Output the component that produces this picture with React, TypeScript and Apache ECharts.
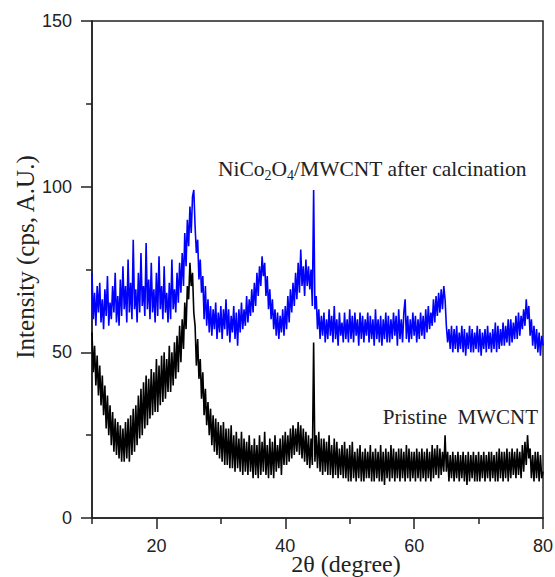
import React, { useEffect, useRef } from "react";
import * as echarts from "echarts";

// 2θ sampling grid of the scan: 10° to 80°, 0.2° step
const startAngle = 10;
const stepAngle = 0.2;

// NiCo2O4/MWCNT after calcination (blue), 5 readings per degree
const calcined: number[] = [
  74,60,68,58,70, 62,71,59,66,57, 69,61,73,58,65, 60,70,62,74,59,
  67,58,72,61,76, 63,70,59,78,62, 71,60,84,63,69, 59,74,62,80,64,
  70,61,83,63,72, 60,77,62,69,59, 74,61,79,63,70, 60,76,62,68,59,
  71,60,78,63,69, 62,74,65,77,68, 80,70,86,76,90, 82,94,86,97,99,
  88,80,84,72,78, 68,73,60,70,58, 66,56,64,55,63, 57,65,54,62,56,
  64,54,63,57,66, 55,63,53,61,56, 64,54,62,52,63, 56,65,57,63,58,
  67,59,66,61,69, 62,71,64,74,67, 76,70,79,73,77, 67,73,63,69,60,
  66,57,63,55,62, 54,61,56,63,55, 64,57,67,59,69, 62,71,64,74,66,
  77,68,81,70,76, 67,78,70,76,69, 75,64,99,63,67, 57,63,54,61,55,
  62,53,60,54,63, 55,61,53,64,54, 60,52,62,55,59, 53,62,54,60,53,
  63,54,61,53,62, 55,60,52,62,54, 61,53,60,55,62, 53,61,54,60,52,
  63,54,60,53,61, 52,60,54,62,53, 61,53,60,54,62, 55,61,52,63,54,
  60,53,62,66,54, 61,53,60,54,62, 55,61,53,60,54, 62,55,61,54,63,
  56,64,57,62,58, 66,59,67,61,68, 62,69,63,70,66, 58,53,57,51,58,
  50,57,51,58,50, 56,51,58,50,57, 49,56,51,58,50, 57,50,56,51,58,
  50,57,49,56,51, 57,50,58,51,56, 50,57,51,59,50, 58,51,57,52,59,
  52,58,53,60,52, 60,53,59,54,61, 54,62,55,61,57, 63,58,66,60,64,
  55,60,52,58,51, 57,50,56,49,55,
  52,
];

// Pristine MWCNT (black), 5 readings per degree
const pristine: number[] = [
  56,44,52,40,49, 37,46,34,43,31, 40,27,37,25,34, 22,32,20,30,19,
  29,18,28,17,27, 17,29,18,30,17, 31,19,33,20,34, 22,37,24,39,25,
  41,27,43,28,42, 30,45,31,44,32, 48,32,46,34,49, 35,50,36,48,38,
  52,38,50,40,53, 42,55,44,58,47, 60,51,65,57,70, 66,77,70,74,62,
  58,46,54,42,48, 36,44,31,39,28, 35,25,33,22,31, 20,30,19,29,18,
  28,17,29,16,27, 16,27,15,28,15, 25,14,26,15,24, 14,26,13,24,14,
  23,13,25,14,22, 12,24,13,22,12, 25,13,23,14,26, 13,22,12,24,13,
  23,12,25,14,22, 15,24,13,25,16, 26,16,25,17,27, 18,28,19,27,20,
  29,19,28,18,27, 17,26,16,25,15, 24,16,53,17,25, 15,26,14,24,13,
  24,14,23,13,25, 13,22,12,24,13, 23,12,21,13,22, 12,23,12,21,11,
  22,11,23,12,20, 11,21,12,22,11, 20,11,21,12,20, 12,22,11,20,11,
  21,12,20,11,22, 11,20,10,21,12, 20,11,22,12,21, 11,20,12,21,11,
  21,12,20,11,22, 12,21,11,20,12, 20,11,21,12,20, 11,21,12,20,11,
  21,12,20,11,22, 12,21,13,22,12, 21,13,20,14,25, 14,20,11,19,12,
  20,11,19,12,20, 11,19,12,20,11, 19,10,20,11,19, 12,20,11,19,11,
  20,11,19,12,20, 11,19,12,20,11, 20,12,19,11,20, 11,21,12,20,11,
  20,12,21,11,20, 12,21,13,20,12, 21,13,20,12,22, 14,23,16,25,18,
  21,12,19,11,20, 12,20,11,19,12,
  14,
];

const xMajorTicks = [20, 40, 60, 80];
const xMinorTicks = [10, 30, 50, 70];
const yMajorTicks = [0, 50, 100, 150];
const yMinorTicks = [25, 75, 125];

const labelCalcined = "NiCo{s|2}O{s|4}/MWCNT after calcination";
const labelPristine = "Pristine  MWCNT";
const xName = "2θ (degree)";
const yName = "Intensity (cps, A.U.)";

const SERIF = "Liberation Serif";
const SANS = "Liberation Sans";

export default function App() {
  const ref = useRef<HTMLDivElement>(null);
  useEffect(() => {
    if (!ref.current) return;
    const chart = echarts.init(ref.current, undefined, { renderer: "svg" });
    const toPairs = (arr: number[]) =>
      arr.map((v, i) => [Math.round((startAngle + i * stepAngle) * 100) / 100, v]);
    const axisLine = { show: true, lineStyle: { color: "#222", width: 1.5 } };
    chart.setOption({
      animation: false,
      backgroundColor: "#fff",
      grid: {
        left: 92,
        right: 12,
        top: 21,
        bottom: 59,
        show: true,
        borderColor: "#222",
        borderWidth: 1.5,
        outerBoundsMode: "none",
        containLabel: false,
      },
      xAxis: [
        {
          type: "value",
          min: 10,
          max: 80,
          interval: 10,
          axisLine,
          splitLine: { show: false },
          axisTick: {
            show: true,
            length: 11,
            customValues: xMajorTicks,
            lineStyle: { color: "#222", width: 1.5 },
          },
          axisLabel: {
            customValues: xMajorTicks,
            margin: 19,
            color: "#222",
            fontSize: 18,
            fontFamily: SANS,
          },
        },
        {
          type: "value",
          min: 10,
          max: 80,
          interval: 10,
          position: "bottom",
          axisLine: { show: false },
          splitLine: { show: false },
          axisTick: {
            show: true,
            length: 6,
            customValues: xMinorTicks,
            lineStyle: { color: "#222", width: 1.5 },
          },
          axisLabel: { show: false },
        },
      ],
      yAxis: [
        {
          type: "value",
          min: 0,
          max: 150,
          interval: 25,
          position: "left",
          axisLine,
          splitLine: { show: false },
          axisTick: {
            show: true,
            length: 11,
            customValues: yMajorTicks,
            lineStyle: { color: "#222", width: 1.5 },
          },
          axisLabel: {
            customValues: yMajorTicks,
            margin: 20,
            color: "#222",
            fontSize: 18,
            fontFamily: SANS,
          },
        },
        {
          type: "value",
          min: 0,
          max: 150,
          interval: 25,
          position: "left",
          offset: 0,
          axisLine: { show: false },
          splitLine: { show: false },
          axisTick: {
            show: true,
            length: 6,
            customValues: yMinorTicks,
            lineStyle: { color: "#222", width: 1.5 },
          },
          axisLabel: { show: false },
        },
      ],
      series: [
        {
          name: "NiCo2O4/MWCNT after calcination",
          type: "line",
          xAxisIndex: 0,
          yAxisIndex: 0,
          data: toPairs(calcined),
          showSymbol: false,
          symbol: "none",
          lineStyle: { color: "#0000ff", width: 1.6 },
          z: 2,
        },
        {
          name: "Pristine MWCNT",
          type: "line",
          xAxisIndex: 0,
          yAxisIndex: 0,
          data: toPairs(pristine),
          showSymbol: false,
          symbol: "none",
          lineStyle: { color: "#000000", width: 1.6 },
          z: 3,
        },
      ],
      graphic: [
        {
          type: "text",
          x: 25,
          y: 257,
          rotation: Math.PI / 2,
          style: {
            text: yName,
            fontSize: 25,
            fontFamily: SERIF,
            fill: "#222",
            align: "center",
            verticalAlign: "middle",
          },
        },
        {
          type: "text",
          x: 346,
          y: 564,
          style: {
            text: xName,
            fontSize: 24,
            fontFamily: SERIF,
            fill: "#222",
            align: "center",
            verticalAlign: "middle",
          },
        },
        {
          type: "text",
          x: 218,
          y: 169,
          style: {
            text: labelCalcined,
            fontSize: 21.5,
            fontFamily: SERIF,
            fill: "#222",
            align: "left",
            verticalAlign: "middle",
            lineHeight: 26,
            rich: {
              s: {
                fontSize: 14,
                fontFamily: SERIF,
                fill: "#222",
                lineHeight: 26,
                verticalAlign: "bottom",
                padding: [10, 0, 0, 0],
              },
            },
          },
        },
        {
          type: "text",
          x: 538,
          y: 417,
          style: {
            text: labelPristine,
            fontSize: 21,
            fontFamily: SERIF,
            fill: "#222",
            align: "right",
            verticalAlign: "middle",
          },
        },
      ],
    });
    return () => chart.dispose();
  }, []);
  return (
    <div
      ref={ref}
      style={{ position: "absolute", left: 0, top: 0, width: 555, height: 577 }}
    />
  );
}
